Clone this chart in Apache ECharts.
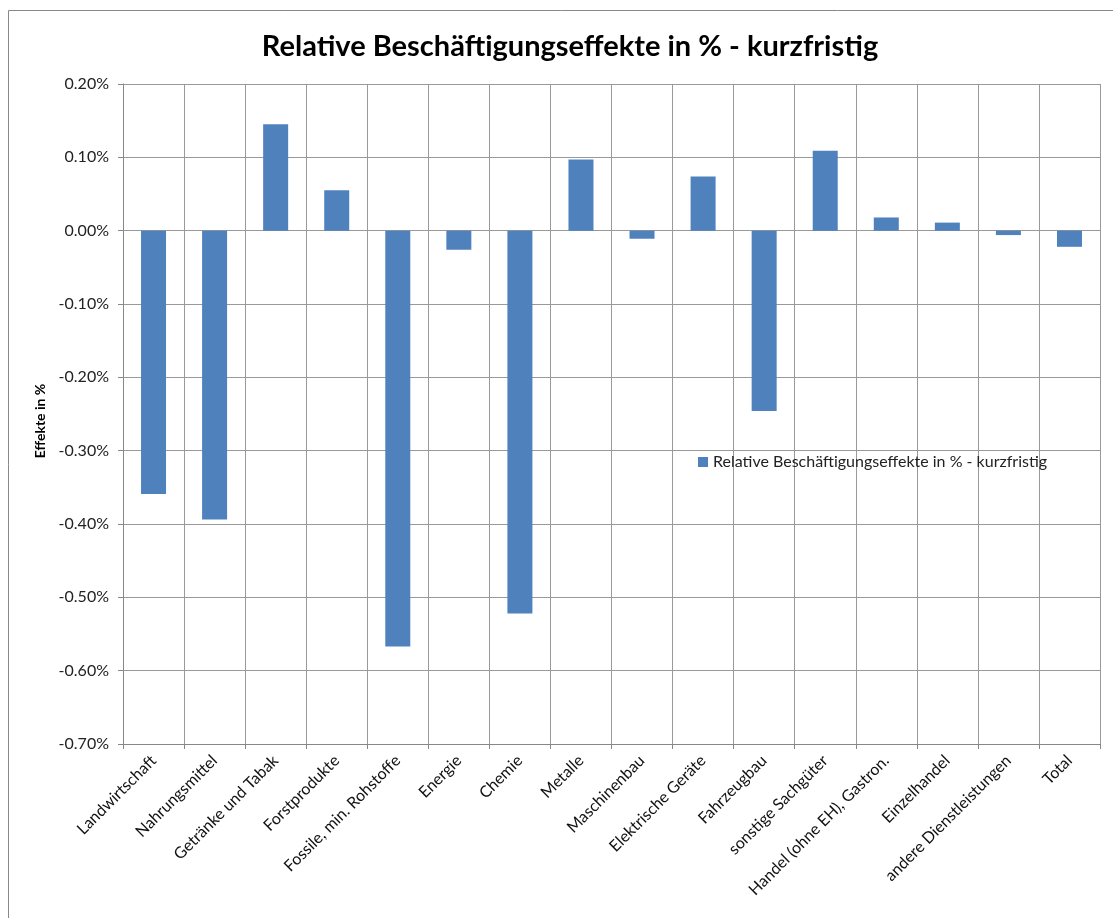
<!DOCTYPE html>
<html>
<head>
<meta charset="utf-8">
<script src="https://cdn.jsdelivr.net/npm/echarts@6/dist/echarts.min.js"></script>
<style>
  html, body { margin: 0; padding: 0; background: #fff; }
  #chart { width: 1113px; height: 918px; }
</style>
</head>
<body>
<div id="chart"></div>
<script>
// Kategorien (Sektoren)
var sectors = [
  'Landwirtschaft', 'Nahrungsmittel', 'Getränke und Tabak', 'Forstprodukte',
  'Fossile, min. Rohstoffe', 'Energie', 'Chemie', 'Metalle', 'Maschinenbau',
  'Elektrische Geräte', 'Fahrzeugbau', 'sonstige Sachgüter',
  'Handel (ohne EH), Gastron.', 'Einzelhandel', 'andere Dienstleistungen', 'Total'
];
// Werte in %
var effects = [
  -0.359, -0.394, 0.145, 0.055, -0.567, -0.026, -0.522, 0.097, -0.011,
  0.074, -0.246, 0.109, 0.018, 0.011, -0.006, -0.022
];
var seriesName = 'Relative Beschäftigungseffekte in % - kurzfristig';
var yMin = -0.7, yMax = 0.2, yStep = 0.1;

var chart = echarts.init(document.getElementById('chart'));
chart.setOption({
  animation: false,
  textStyle: { fontFamily: 'Lato' },
  graphic: [{
    type: 'rect',
    shape: { x: 8.5, y: 10.5, width: 1120, height: 930 },
    style: { fill: 'none', stroke: '#888', lineWidth: 1 },
    silent: true
  }],
  title: {
    text: seriesName,
    left: 565,
    textAlign: 'center',
    top: 27,
    textStyle: { fontFamily: 'Lato', fontWeight: 'bold', fontSize: 29, color: '#000' }
  },
  legend: {
    left: 693,
    top: 449,
    itemWidth: 10,
    itemHeight: 10,
    itemGap: 5,
    icon: 'rect',
    textStyle: { fontFamily: 'Lato', fontSize: 16, color: '#222' },
    data: [seriesName]
  },
  grid: { left: 123, right: 13, top: 84, bottom: 174 },
  xAxis: {
    type: 'category',
    data: sectors,
    axisLine: { onZero: false, lineStyle: { color: '#888' } },
    axisTick: { show: true, length: 5, lineStyle: { color: '#888' } },
    splitLine: { show: true, lineStyle: { color: '#999', width: 1 } },
    axisLabel: {
      interval: 0,
      rotate: 45,
      margin: 14,
      fontFamily: 'Lato',
      fontSize: 16,
      color: '#111'
    }
  },
  yAxis: {
    type: 'value',
    min: yMin,
    max: yMax,
    interval: yStep,
    name: 'Effekte in %',
    nameLocation: 'middle',
    nameGap: 74,
    nameRotate: 90,
    nameTextStyle: { fontFamily: 'Lato', fontWeight: 'bold', fontSize: 14, color: '#000', padding: [0, 14, 0, 0] },
    axisLine: { show: true, lineStyle: { color: '#888' } },
    axisTick: { show: true, length: 5, lineStyle: { color: '#888' } },
    splitLine: { show: true, lineStyle: { color: '#999', width: 1 } },
    axisLabel: {
      margin: 14,
      fontFamily: 'Lato',
      fontSize: 16,
      color: '#222',
      formatter: function (v) { return v.toFixed(2) + '%'; }
    }
  },
  series: [{
    name: seriesName,
    type: 'bar',
    data: effects,
    barWidth: 25,
    itemStyle: { color: '#4F81BD' }
  }]
});
</script>
</body>
</html>
